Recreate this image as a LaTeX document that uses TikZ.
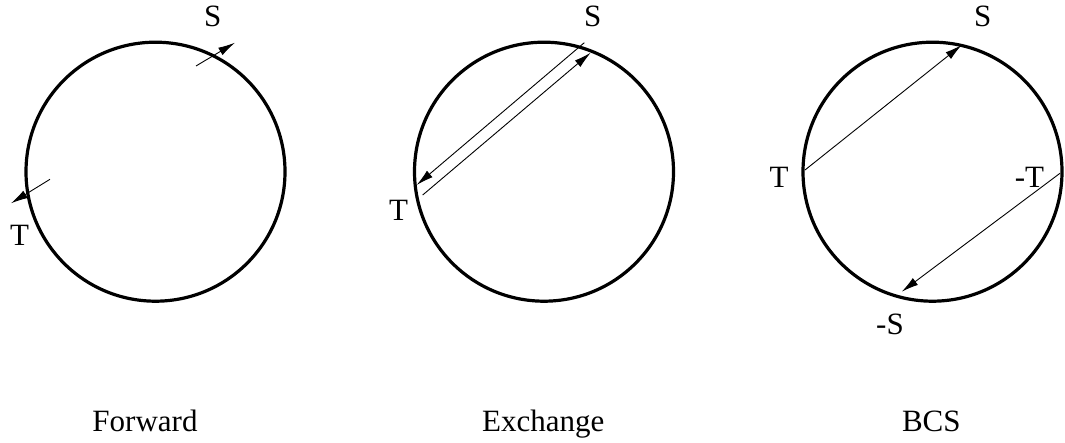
\documentclass[tikz,border=0pt]{standalone}
\usepackage{fontspec}
\setmainfont{Liberation Serif}
\usetikzlibrary{arrows.meta}
\begin{document}
\begin{tikzpicture}[x=1pt,y=-1pt,
  ring/.style={circle,draw,line width=3.2pt,minimum size=259pt,inner sep=0pt},
  conn/.style={line width=0.9pt,-{Latex[length=17pt,width=8.5pt]}},
  lab/.style={anchor=base,inner sep=0pt,font=\fontsize{31}{36}\selectfont}]
\useasboundingbox (0,0) rectangle (1065,443);
% circles
\node[ring] (c1) at (155.5,171.7) {};
\node[ring] (c2) at (544,171.7) {};
\node[ring] (c3) at (932.5,171.7) {};
% Forward
\coordinate (f1a) at (196,66);
\coordinate (f1b) at (235,42.7);
\coordinate (f2a) at (50,179.3);
\coordinate (f2b) at (11,203.3);
\draw[conn] (f1a) -- (f1b);
\draw[conn] (f2a) -- (f2b);
\node[lab] (fS) at (212.8,26.7) {S};
\node[lab] (fT) at (19.7,246) {T};
% Exchange
\coordinate (e1a) at (584.3,42.7);
\coordinate (e1b) at (416.7,185);
\coordinate (e2a) at (422.7,195);
\coordinate (e2b) at (590.7,52.7);
\draw[conn] (e1a) -- (e1b);
\draw[conn] (e2a) -- (e2b);
\node[lab] (eS) at (592.8,26.7) {S};
\node[lab] (eT) at (398.5,220.7) {T};
% BCS
\coordinate (bT) at (805,170);
\coordinate (bS) at (961.7,45);
\coordinate (bmT) at (1060,173.3);
\coordinate (bmS) at (901.7,291.7);
\draw[conn] (bT) -- (bS);
\draw[conn] (bmT) -- (bmS);
\node[lab] (bSl) at (982.8,27) {S};
\node[lab] (bTl) at (779.2,187.3) {T};
\node[lab] (bmTl) at (1029.5,187.3) {-T};
\node[lab] (bmSl) at (890,335) {-S};
% captions
\node[lab] (cap1) at (145,431.7) {Forward};
\node[lab] (cap2) at (543.3,431.7) {Exchange};
\node[lab] (cap3) at (931.3,431.7) {BCS};
\end{tikzpicture}
\end{document}
